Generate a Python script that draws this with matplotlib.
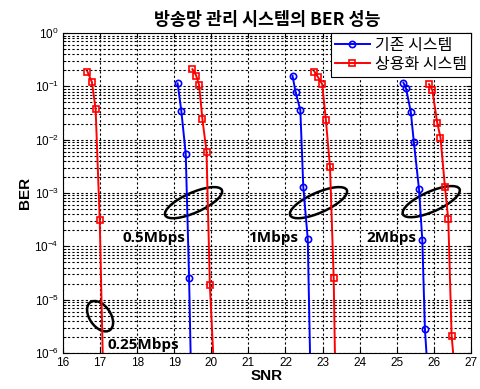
import matplotlib.pyplot as plt
from matplotlib.patches import Ellipse
from matplotlib.transforms import ScaledTranslation
from matplotlib.ticker import LogLocator, NullFormatter

plt.rcParams['font.family'] = ['Liberation Sans', 'Noto Sans CJK KR', 'DejaVu Sans']
KR = ['Noto Sans CJK KR', 'DejaVu Sans']

# BER curves (last point of each lies below 1e-6, clipped)
red_025_snr = [16.66, 16.78, 16.88, 16.99, 17.08]
red_025_ber = [0.188, 0.12, 0.037, 3.1e-4, 5e-7]

blue_05_snr = [19.09, 19.19, 19.31, 19.40, 19.45]
blue_05_ber = [0.114, 0.035, 5.4e-3, 2.5e-5, 5e-7]
red_05_snr = [19.49, 19.59, 19.67, 19.76, 19.87, 19.96, 20.07]
red_05_ber = [0.21, 0.16, 0.106, 0.024, 6e-3, 1.9e-5, 5e-7]

blue_1_snr = [22.19, 22.27, 22.40, 22.48, 22.60, 22.67]
blue_1_ber = [0.158, 0.079, 0.036, 1.3e-3, 1.38e-4, 5e-7]
red_1_snr = [22.78, 22.88, 22.99, 23.09, 23.20, 23.30, 23.34]
red_1_ber = [0.19, 0.148, 0.11, 0.023, 3.1e-3, 2.5e-5, 5e-7]

blue_2_snr = [25.18, 25.25, 25.38, 25.46, 25.60, 25.69, 25.76, 25.83]
blue_2_ber = [0.117, 0.092, 0.033, 9.2e-3, 1.2e-3, 1.3e-4, 2.8e-6, 5e-7]
red_2_snr = [25.87, 25.96, 26.09, 26.18, 26.30, 26.39, 26.48, 26.56]
red_2_ber = [0.11, 0.085, 0.021, 0.011, 1.3e-3, 3.2e-4, 2.1e-6, 5e-7]

# rate labels: (text, snr, ber)
rate_labels = [('0.5Mbps', 17.6, 1.45e-4), ('1Mbps', 20.98, 1.45e-4),
               ('2Mbps', 24.18, 1.45e-4), ('0.25Mbps', 17.2, 1.4e-6)]
# ellipses: (snr, ber, width in, height in, angle)
ellipses = [(19.52, 6.6e-4, 0.62, 0.20, 24), (22.89, 6.6e-4, 0.62, 0.20, 24),
            (25.93, 6.9e-4, 0.62, 0.20, 24), (17.0, 4.9e-6, 0.34, 0.21, -55)]

fig = plt.figure(figsize=(4.81, 3.89), dpi=100)
ax = fig.add_axes([0.131, 0.0925, 0.848, 0.8225])

blue_kw = dict(color='#0000ff', marker='o', markersize=4.5, markerfacecolor='none',
               markeredgewidth=1.2, linewidth=1.4)
red_kw = dict(color='#ff0000', marker='s', markersize=5, markerfacecolor='none',
              markeredgewidth=1.2, linewidth=1.4)

ax.semilogy(blue_05_snr, blue_05_ber, label='기존 시스템', **blue_kw)
ax.semilogy(red_05_snr, red_05_ber, label='상용화 시스템', **red_kw)
ax.semilogy(red_025_snr, red_025_ber, **red_kw)
ax.semilogy(blue_1_snr, blue_1_ber, **blue_kw)
ax.semilogy(red_1_snr, red_1_ber, **red_kw)
ax.semilogy(blue_2_snr, blue_2_ber, **blue_kw)
ax.semilogy(red_2_snr, red_2_ber, **red_kw)

ax.set_xlim(16, 27)
ax.set_ylim(1e-6, 1)
ax.set_xticks(range(16, 28))
ax.yaxis.set_major_locator(LogLocator(base=10, numticks=10))
ax.yaxis.set_minor_locator(LogLocator(base=10, subs=range(2, 10), numticks=100))
ax.yaxis.set_minor_formatter(NullFormatter())
ax.tick_params(labelsize=8.5, direction='in', top=True, right=True, pad=3)
ax.tick_params(which='minor', direction='in', right=True)
ax.grid(True, which='major', linestyle=(0, (2, 2)), color='black', linewidth=0.8)
ax.grid(True, which='minor', axis='y', linestyle=(0, (2, 2)), color='black', linewidth=0.8)

for txt, x, y in rate_labels:
    ax.text(x, y, txt, fontsize=11, fontweight='bold', va='center', ha='left',
            family=['Open Sans', 'DejaVu Sans'])

for x, y, w, h, a in ellipses:
    tr = fig.dpi_scale_trans + ScaledTranslation(x, y, ax.transData)
    ax.add_patch(Ellipse((0, 0), w, h, angle=a, fill=False, edgecolor='black',
                         linewidth=1.8, transform=tr, clip_on=False))

ax.set_title('방송망 관리 시스템의 BER 성능', fontsize=12.5, fontweight='bold',
             family=KR, pad=6)
ax.set_xlabel('SNR', fontsize=11, fontweight='bold', labelpad=0)
ax.set_ylabel('BER', fontsize=11, fontweight='bold', labelpad=2)

leg = ax.legend(loc='upper right', prop={'family': KR, 'size': 11.5},
                fancybox=False, framealpha=1, edgecolor='black',
                borderaxespad=0, handlelength=2.2, handletextpad=0.3,
                borderpad=0.25, labelspacing=0.1)
leg.get_frame().set_linewidth(0.8)

fig.savefig('out.png', dpi=100)
